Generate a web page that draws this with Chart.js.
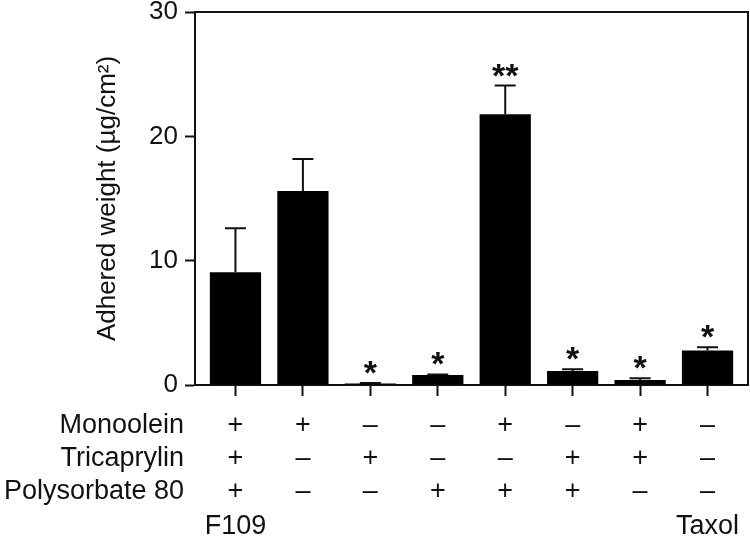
<!DOCTYPE html>
<html>
<head>
<meta charset="utf-8">
<script src="https://cdn.jsdelivr.net/npm/chart.js@4.4.1/dist/chart.umd.min.js"></script>
<style>
  html, body { margin: 0; padding: 0; background: #fff; }
  #wrap { width: 750px; height: 542px; }
</style>
</head>
<body>
<div id="wrap"><canvas id="myChart"></canvas></div>
<script>
// one bar per formulation, left to right
var groups = [0, 1, 2, 3, 4, 5, 6, 7];
var adhered = [9.07, 15.6, 0.13, 0.8, 21.78, 1.13, 0.4, 2.77];
var errorSD = [3.54, 2.58, 0.04, 0.05, 2.3, 0.13, 0.15, 0.27];
var stars = ['', '', '*', '*', '**', '*', '*', '*'];

// composition table under the axis
var rowNames = ['Monoolein', 'Tricaprylin', 'Polysorbate 80'];
var monoolein = ['+', '+', '–', '–', '+', '–', '+', '–'];
var tricaprylin = ['+', '–', '+', '–', '–', '+', '+', '–'];
var polysorbate = ['+', '–', '–', '+', '+', '+', '–', '–'];
var groupNames = ['F109', '', '', '', '', '', '', 'Taxol'];

var yTicks = [0, 10, 20, 30];
var yTitle = 'Adhered weight (µg/cm²)';

var ink = '#111';
var fontFam = '"Liberation Sans", Arial, Helvetica, sans-serif';

var extras = {
    id: 'extras',
    afterDraw: function(chart) {
        var ctx = chart.ctx;
        var x = chart.scales.x, y = chart.scales.y, a = chart.chartArea;
        ctx.save();
        ctx.strokeStyle = ink;
        ctx.fillStyle = ink;
        ctx.lineWidth = 2;
        // top and right side of the box
        ctx.beginPath();
        ctx.moveTo(a.left, a.top);
        ctx.lineTo(a.right, a.top);
        ctx.lineTo(a.right, a.bottom);
        ctx.stroke();

        // error bars + significance marks
        ctx.font = 'bold 34px ' + fontFam;
        ctx.textAlign = 'center';
        ctx.textBaseline = 'alphabetic';
        groups.forEach(function(g, i) {
            var px = x.getPixelForValue(g);
            var y0 = y.getPixelForValue(adhered[i]);
            var y1 = y.getPixelForValue(adhered[i] + errorSD[i]);
            ctx.beginPath();
            ctx.moveTo(px, y0);
            ctx.lineTo(px, y1);
            ctx.moveTo(px - 10.5, y1);
            ctx.lineTo(px + 10.5, y1);
            ctx.stroke();
            if (stars[i]) {
                ctx.fillText(stars[i], px, y1 + 1);
            }
        });

        // table
        var rows = [monoolein, tricaprylin, polysorbate];
        var rowY = [426, 459, 492];
        ctx.font = '27px ' + fontFam;
        ctx.textBaseline = 'middle';
        rows.forEach(function(r, k) {
            ctx.textAlign = 'right';
            ctx.fillText(rowNames[k], 184, rowY[k]);
            ctx.textAlign = 'center';
            r.forEach(function(s, i) {
                ctx.fillText(s, x.getPixelForValue(groups[i]), rowY[k]);
            });
        });
        groupNames.forEach(function(n, i) {
            if (n) ctx.fillText(n, x.getPixelForValue(groups[i]), 527);
        });
        ctx.restore();
    }
};

var ctx = document.getElementById('myChart').getContext('2d');
var chart = new Chart(ctx, {
    type: 'bar',
    data: {
        datasets: [{
            data: groups.map(function(g, i) { return { x: g, y: adhered[i] }; }),
            backgroundColor: '#000',
            borderColor: '#000',
            borderWidth: 0,
            barPercentage: 0.76,
            categoryPercentage: 1
        }]
    },
    options: {
        responsive: true,
        maintainAspectRatio: false,
        animation: false,
        layout: { padding: { left: 0, right: 2, top: 12, bottom: 0 } },
        plugins: {
            legend: { display: false },
            tooltip: { enabled: false }
        },
        scales: {
            x: {
                type: 'linear',
                offset: false,
                min: -0.6,
                max: 7.6,
                afterBuildTicks: function(s) {
                    s.ticks = groups.map(function(g) { return { value: g }; });
                },
                afterFit: function(s) {
                    s.height = 157;
                    s.paddingLeft = 0;
                    s.paddingRight = 0;
                },
                grid: {
                    offset: false,
                    drawOnChartArea: false,
                    drawTicks: true,
                    tickLength: 11,
                    tickWidth: 2,
                    color: ink
                },
                border: { display: true, color: ink, width: 2 },
                ticks: { display: false }
            },
            y: {
                min: 0,
                max: 30,
                afterBuildTicks: function(s) {
                    s.ticks = yTicks.map(function(v) { return { value: v }; });
                },
                afterFit: function(s) {
                    s.width = 195;
                    s.paddingTop = 0;
                    s.paddingBottom = 0;
                },
                grid: {
                    drawOnChartArea: false,
                    drawTicks: true,
                    tickLength: 10,
                    tickWidth: 2,
                    color: ink
                },
                border: { display: true, color: ink, width: 2 },
                ticks: {
                    color: ink,
                    padding: 7,
                    font: { family: fontFam, size: 26 }
                },
                title: {
                    display: true,
                    text: yTitle,
                    color: ink,
                    font: { family: fontFam, size: 26 },
                    padding: { top: 92, bottom: 0 }
                }
            }
        }
    },
    plugins: [extras]
});
</script>
</body>
</html>
